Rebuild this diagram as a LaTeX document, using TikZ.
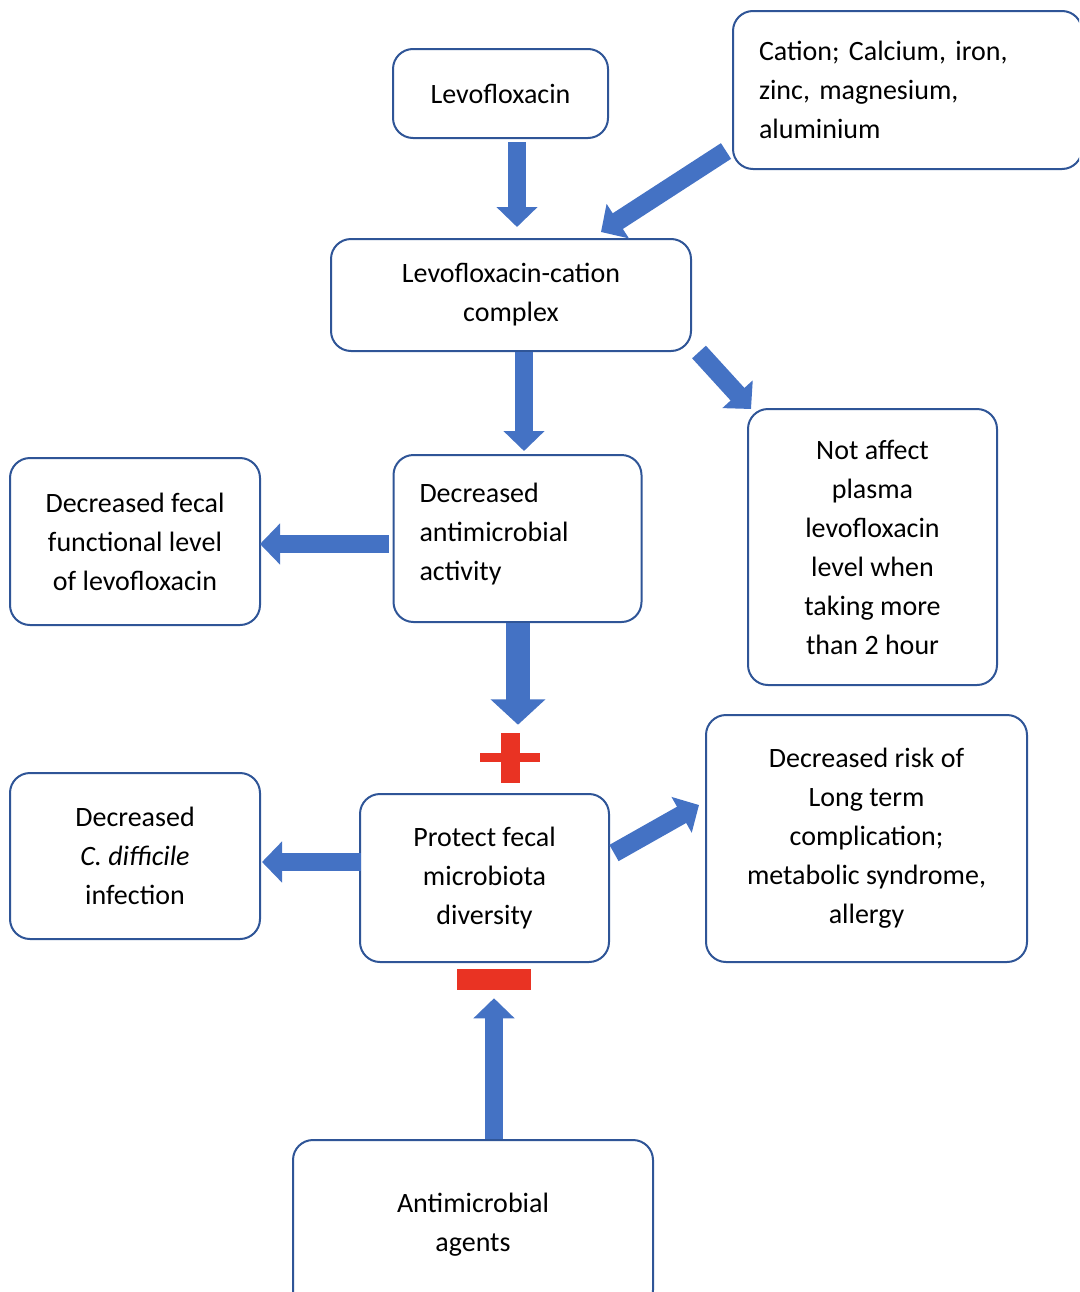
\documentclass[tikz,border=0pt]{standalone}
\usepackage{fontspec}
\setmainfont{Carlito}
\usetikzlibrary{arrows.meta,calc}

\definecolor{boxline}{RGB}{47,85,151}
\definecolor{arrowblue}{RGB}{68,114,196}
\definecolor{signred}{RGB}{233,51,35}

\begin{document}
\frenchspacing
\begin{tikzpicture}[
		x=0.75pt, y=-0.75pt,
		block/.style={draw=boxline, line width=1.5pt, rounded corners=15pt, fill=white, align=center, inner sep=0pt,
			font=\fontsize{21}{29.25}\selectfont},
		leftblock/.style={block, align=left, inner xsep=19.5pt},
		arrow/.style={arrowblue, line width=14pt, -{Triangle[width=30pt, length=15pt]}},
		wide arrow/.style={arrowblue, line width=18pt, -{Triangle[width=40pt, length=19pt]}},
		signbar/.style={fill=signred, draw=none, inner sep=0pt},
	]
		\useasboundingbox (0,0) rectangle (1079,1292);
		\clip (0,0) rectangle (1079,1292);

		\node [block, minimum width=161.25pt, minimum height=66.75pt] (levo) at (500.5,93.5) {Levofloxacin};
		\node [leftblock, text width=222.75pt, minimum height=118.5pt] (cation) at (907.5,90) {Cation; Calcium, iron,\\zinc, magnesium,\\aluminium};
		\node [block, minimum width=270pt, minimum height=84pt] (complex) at (511,295) {Levofloxacin-cation\\complex};
		\node [leftblock, text width=147pt, minimum height=125.25pt] (activity) at (517.5,538.5) {Decreased\\antimicrobial\\activity\vspace{6pt}};
		\node [block, minimum width=187.5pt, minimum height=125.25pt] (fecal level) at (135,541.5) {Decreased fecal\\functional level\\of levofloxacin};
		\node [block, minimum width=186.75pt, minimum height=207pt] (plasma) at (872.5,547) {Not affect\\plasma\\levofloxacin\\level when\\taking more\\than 2 hour};
		\node [block, minimum width=186.75pt, minimum height=126pt] (protect) at (484.5,878) {Protect fecal\\microbiota\\diversity};
		\node [block, minimum width=187.5pt, minimum height=124.5pt] (cdiff) at (135,856) {Decreased\\\textit{C. difficile}\\infection};
		\node [block, minimum width=240.75pt, minimum height=185.25pt] (risk) at (866.5,838.5) {Decreased risk of\\Long term\\complication;\\metabolic syndrome,\\allergy};
		\node [block, minimum width=270pt, minimum height=127.5pt] (agents) at (473,1225) {Antimicrobial\\agents};

		% plus and minus signs
		\node [signbar, minimum width=45pt, minimum height=6.75pt] (plus) at (510,757.5) {};
		\fill [signred] ($(plus)+(-9.5,-25)$) rectangle ++(19,50);
		\node [signbar, minimum width=55.5pt, minimum height=15.75pt] (minus) at (494,979.5) {};

		\draw[arrow] ($(levo.south)+(16.5,3)$) -- ($(complex.north)+(6,-11)$);
		\draw[arrow] ($(cation.south west)+(-6,-19)$) -- ($(complex.north)+(90,-6)$);
		\draw[arrow] ($(complex.south)+(13,0)$) -- ($(activity.north)+(6.5,-3)$);
		\draw[arrow] ($(complex.south east)+(7,0)$) -- ($(plasma.north west)+(4,1)$);
		\draw[arrow] ($(activity.west)+(-4,5.5)$) -- ($(fecal level.east)+(-1,2.5)$);
		\draw[wide arrow] ($(activity.south)+(0.5,0)$) -- ($(plus.north)+(8,-28)$);
		\draw[arrow] ($(agents.north)+(21,0)$) -- ($(minus.south)+(0,8)$);
		\draw[arrow] ($(protect.west)+(2,-16)$) -- ($(cdiff.east)+(1,6)$);
		\draw[arrow] ($(protect.east)+(4,-25)$) -- ($(risk.west)+(-6,-33.5)$);
	\end{tikzpicture}
\end{document}
